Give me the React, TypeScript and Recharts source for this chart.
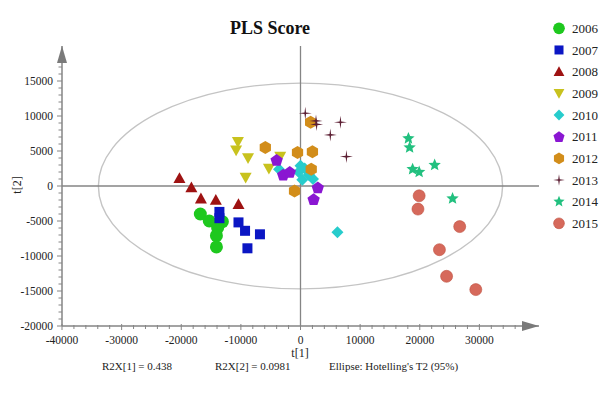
import React from "react";
import {
  ScatterChart,
  Scatter,
  XAxis,
  YAxis,
  ReferenceLine,
  ReferenceArea,
  ReferenceDot,
} from "recharts";

// ---------- data ----------
const years = ["2006", "2007", "2008", "2009", "2010", "2011", "2012", "2013", "2014", "2015"];

const s2006 = [
  { x: -16800, y: -4000 }, { x: -15300, y: -5000 }, { x: -13100, y: -5100 },
  { x: -13900, y: -6000 }, { x: -14100, y: -7100 }, { x: -14100, y: -8700 },
];
const s2007 = [
  { x: -13600, y: -3700 }, { x: -13600, y: -4600 }, { x: -10400, y: -5200 },
  { x: -9300, y: -6400 }, { x: -6800, y: -6900 }, { x: -8900, y: -8900 },
];
const s2008 = [
  { x: -20300, y: 1100 }, { x: -18300, y: -200 }, { x: -16700, y: -1800 },
  { x: -14200, y: -2000 }, { x: -10400, y: -2600 },
];
const s2009 = [
  { x: -10500, y: 6300 }, { x: -10800, y: 5100 }, { x: -8800, y: 4000 },
  { x: -5300, y: 2500 }, { x: -9200, y: 1200 }, { x: -3400, y: 4200 },
];
const s2010 = [
  { x: -3600, y: 2400 }, { x: 0, y: 2900 }, { x: 700, y: 2500 }, { x: -300, y: 2000 },
  { x: 300, y: 900 }, { x: 1400, y: 1600 }, { x: 2100, y: 1000 }, { x: 6200, y: -6600 },
];
const s2011 = [
  { x: -4000, y: 3700 }, { x: -2900, y: 1600 }, { x: -1800, y: 2000 },
  { x: 2900, y: -200 }, { x: 2200, y: -1900 },
];
const s2012 = [
  { x: 1700, y: 9100 }, { x: -5900, y: 5500 }, { x: -500, y: 4800 },
  { x: 2000, y: 4900 }, { x: 1800, y: 2400 }, { x: -1000, y: -700 },
];
const s2013 = [
  { x: 800, y: 10400 }, { x: 2600, y: 9300 }, { x: 2700, y: 8800 },
  { x: 6700, y: 9100 }, { x: 5000, y: 7300 }, { x: 7700, y: 4200 },
];
const s2014 = [
  { x: 18100, y: 6800 }, { x: 18300, y: 5500 }, { x: 18800, y: 2400 },
  { x: 19900, y: 2000 }, { x: 22500, y: 3000 }, { x: 25500, y: -1800 },
];
const s2015 = [
  { x: 19900, y: -1400 }, { x: 19700, y: -3300 }, { x: 26700, y: -5800 },
  { x: 23300, y: -9100 }, { x: 24500, y: -12900 }, { x: 29400, y: -14800 },
];

const seriesData = [s2006, s2007, s2008, s2009, s2010, s2011, s2012, s2013, s2014, s2015];

const xLabels = [-40000, -30000, -20000, -10000, 0, 10000, 20000, 30000];
const yLabels = [-20000, -15000, -10000, -5000, 0, 5000, 10000, 15000];
const xTicks = [
  -40000, -38000, -36000, -34000, -32000, -30000, -28000, -26000, -24000, -22000,
  -20000, -18000, -16000, -14000, -12000, -10000, -8000, -6000, -4000, -2000,
  0, 2000, 4000, 6000, 8000, 10000, 12000, 14000, 16000, 18000,
  20000, 22000, 24000, 26000, 28000, 30000, 32000, 34000, 36000,
];
const yTicks = [
  -20000, -19000, -18000, -17000, -16000, -15000, -14000, -13000, -12000, -11000,
  -10000, -9000, -8000, -7000, -6000, -5000, -4000, -3000, -2000, -1000,
  0, 1000, 2000, 3000, 4000, 5000, 6000, 7000, 8000, 9000,
  10000, 11000, 12000, 13000, 14000, 15000, 16000, 17000,
];

// Hotelling T2 ellipse half-widths
const ELL_RX = 33900;
const ELL_RY = 14700;

const title = "PLS Score";
const xTitle = "t[1]";
const yTitle = "t[2]";
const notes = ["R2X[1] = 0.438", "R2X[2] = 0.0981", "Ellipse: Hotelling's T2 (95%)"];

// ---------- styles ----------
const FONT = '"Liberation Serif", "Times New Roman", serif';
const AXIS = "#858585";
const TXT = "#222";

type Kind =
  | "circle" | "square" | "triangle" | "triangleDown" | "diamond"
  | "pentagon" | "hexagon" | "cross4" | "star" | "ball";

const styles: { color: string; kind: Kind; size: number }[] = [
  { color: "#1ec81e", kind: "circle", size: 6.5 },
  { color: "#0b16c4", kind: "square", size: 5 },
  { color: "#9e1212", kind: "triangle", size: 6 },
  { color: "#c8c21e", kind: "triangleDown", size: 6 },
  { color: "#27cccc", kind: "diamond", size: 6 },
  { color: "#8a16d2", kind: "pentagon", size: 6.5 },
  { color: "#d28d1a", kind: "hexagon", size: 6.5 },
  { color: "#5c1f33", kind: "cross4", size: 6.5 },
  { color: "#22c07f", kind: "star", size: 6.5 },
  { color: "#d6695b", kind: "ball", size: 6 },
];

function poly(cx: number, cy: number, r: number, n: number, rot: number) {
  const pts: string[] = [];
  for (let i = 0; i < n; i++) {
    const a = rot + (i * 2 * Math.PI) / n;
    pts.push(`${cx + r * Math.cos(a)},${cy + r * Math.sin(a)}`);
  }
  return pts.join(" ");
}
function starPts(cx: number, cy: number, ro: number, ri: number, n: number, rot: number) {
  const pts: string[] = [];
  for (let i = 0; i < 2 * n; i++) {
    const a = rot + (i * Math.PI) / n;
    const r = i % 2 === 0 ? ro : ri;
    pts.push(`${cx + r * Math.cos(a)},${cy + r * Math.sin(a)}`);
  }
  return pts.join(" ");
}

function Marker({ cx, cy, kind, color, s }: { cx: number; cy: number; kind: Kind; color: string; s: number }) {
  if (cx == null || cy == null) return null;
  switch (kind) {
    case "circle":
      return <circle cx={cx} cy={cy} r={s} fill={color} />;
    case "ball":
      return <circle cx={cx} cy={cy} r={s} fill={color} stroke="#c0503f" strokeWidth={0.6} />;
    case "square":
      return <rect x={cx - s} y={cy - s} width={2 * s} height={2 * s} fill={color} />;
    case "triangle":
      return <polygon points={`${cx},${cy - s} ${cx + s},${cy + s * 0.8} ${cx - s},${cy + s * 0.8}`} fill={color} />;
    case "triangleDown":
      return <polygon points={`${cx},${cy + s} ${cx + s},${cy - s * 0.8} ${cx - s},${cy - s * 0.8}`} fill={color} />;
    case "diamond":
      return <polygon points={`${cx},${cy - s} ${cx + s},${cy} ${cx},${cy + s} ${cx - s},${cy}`} fill={color} />;
    case "pentagon":
      return <polygon points={poly(cx, cy + 0.5, s, 5, -Math.PI / 2)} fill={color} />;
    case "hexagon":
      return <polygon points={poly(cx, cy, s, 6, Math.PI / 6)} fill={color} />;
    case "cross4":
      return <polygon points={starPts(cx, cy, s, 1.1, 4, -Math.PI / 2)} fill={color} />;
    case "star":
      return <polygon points={starPts(cx, cy, s, s * 0.45, 5, -Math.PI / 2)} fill={color} />;
  }
  return null;
}

const XTick = (props: any) => {
  const { x, y, payload } = props;
  const v = payload.value;
  const major = xLabels.includes(v);
  const ay = y - 10;
  return (
    <g>
      <line x1={x} x2={x} y1={ay - (major ? 2 : 1)} y2={ay + (major ? 4 : 3)} stroke={AXIS} strokeWidth={1} />
      {major && (
        <text x={x} y={y} dy="0.71em" textAnchor="middle" fontSize={11.5} fontFamily={FONT} fill={TXT}>
          {v}
        </text>
      )}
    </g>
  );
};

const YTick = (props: any) => {
  const { x, y, payload } = props;
  const v = payload.value;
  const major = yLabels.includes(v);
  const ax = x + 9;
  return (
    <g>
      <line x1={ax - (major ? 5 : 3.5)} x2={ax} y1={y} y2={y} stroke={AXIS} strokeWidth={1} />
      {major && (
        <text x={x} y={y} dy="0.355em" textAnchor="end" fontSize={11.5} fontFamily={FONT} fill={TXT}>
          {v}
        </text>
      )}
    </g>
  );
};

export default function App() {
  return (
    <div style={{ position: "absolute", left: 0, top: 0, width: 607, height: 394, background: "#fff" }}>
      <ScatterChart width={607} height={394} margin={{ top: 46, right: 68, bottom: 48, left: 0 }}>
        <XAxis
          type="number"
          dataKey="x"
          domain={[-40000, 40000]}
          ticks={xTicks}
          interval={0}
          height={20}
          tickSize={4}
          tickMargin={6}
          tickLine={false}
          axisLine={{ stroke: AXIS, strokeWidth: 1.5 }}
          tick={XTick}
          allowDataOverflow
        />
        <YAxis
          type="number"
          dataKey="y"
          domain={[-20000, 20000]}
          ticks={yTicks}
          interval={0}
          width={62}
          tickSize={4}
          tickMargin={5}
          tickLine={false}
          axisLine={{ stroke: AXIS, strokeWidth: 1.5 }}
          tick={YTick}
          allowDataOverflow
        />
        <ReferenceArea
          x1={-ELL_RX}
          x2={ELL_RX}
          y1={-ELL_RY}
          y2={ELL_RY}
          ifOverflow="visible"
          shape={(p: any) => (
            <ellipse
              cx={p.x + p.width / 2}
              cy={p.y + p.height / 2}
              rx={Math.abs(p.width / 2)}
              ry={Math.abs(p.height / 2)}
              fill="none"
              stroke="#c4c4c4"
              strokeWidth={1.4}
            />
          )}
        />
        <ReferenceLine x={0} stroke={AXIS} strokeWidth={1.3} />
        <ReferenceLine y={0} stroke={AXIS} strokeWidth={1.3} />
        <ReferenceDot
          x={40000}
          y={-20000}
          ifOverflow="visible"
          shape={(p: any) => (
            <polygon points={`${p.cx},${p.cy} ${p.cx - 17},${p.cy - 5} ${p.cx - 17},${p.cy + 5}`} fill="#7a7a7a" />
          )}
        />
        <ReferenceDot
          x={-40000}
          y={20000}
          ifOverflow="visible"
          shape={(p: any) => (
            <polygon points={`${p.cx},${p.cy} ${p.cx - 5},${p.cy + 17} ${p.cx + 5},${p.cy + 17}`} fill="#7a7a7a" />
          )}
        />
        {seriesData.map((d, i) => (
          <Scatter
            key={years[i]}
            name={years[i]}
            data={d}
            isAnimationActive={false}
            shape={(p: any) => (
              <Marker cx={p.cx} cy={p.cy} kind={styles[i].kind} color={styles[i].color} s={styles[i].size} />
            )}
          />
        ))}
      </ScatterChart>
      <svg
        width={607}
        height={394}
        style={{ position: "absolute", left: 0, top: 0, pointerEvents: "none" }}
      >
        <text x={270} y={34} textAnchor="middle" fontSize={18} fontWeight="bold" fontFamily={FONT} fill="#111">
          {title}
        </text>
        {years.map((yr, i) => {
          const cy = 28.3 + i * 21.67;
          const st = styles[i];
          return (
            <g key={yr}>
              <Marker cx={559} cy={cy} kind={st.kind} color={st.color} s={st.size * 0.9} />
              <text x={572} y={cy} dy="0.35em" fontSize={13} fontFamily={FONT} fill={TXT}>
                {yr}
              </text>
            </g>
          );
        })}
        <text x={300} y={357} textAnchor="middle" fontSize={12} fontFamily={FONT} fill={TXT}>
          {xTitle}
        </text>
        <text
          x={17}
          y={185}
          textAnchor="middle"
          dy="0.35em"
          fontSize={12}
          fontFamily={FONT}
          fill={TXT}
          transform="rotate(-90 17 185)"
        >
          {yTitle}
        </text>
        <text x={102} y={370} fontSize={11} fontFamily={FONT} fill={TXT}>
          {notes[0]}
        </text>
        <text x={215} y={370} fontSize={11} fontFamily={FONT} fill={TXT}>
          {notes[1]}
        </text>
        <text x={329} y={370} fontSize={11} fontFamily={FONT} fill={TXT}>
          {notes[2]}
        </text>
      </svg>
    </div>
  );
}
